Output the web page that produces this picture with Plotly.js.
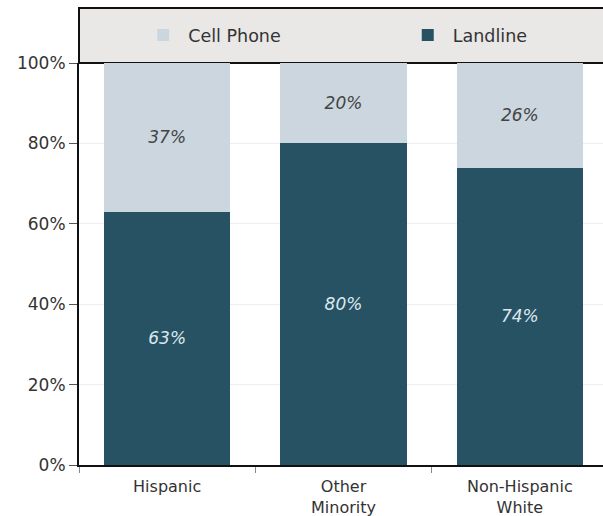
<!DOCTYPE html>
<html>
<head>
<meta charset="utf-8">
<script src="https://cdn.plot.ly/plotly-3.0.1.min.js"></script>
<style>
  html, body { margin: 0; padding: 0; overflow: hidden; background: #fff; }
  #chart { width: 608px; height: 516px; }
</style>
</head>
<body>
<div id="chart"></div>
<script>
// Share of each group's phone use, stacked to 100%
const categories = ['Hispanic', 'Other<br>Minority', 'Non-Hispanic<br>White'];
const landline = [63, 80, 74];
const cellPhone = [37, 20, 26];
const yTicks = [0, 20, 40, 60, 80, 100];

const landColor = '#275263';
const cellColor = '#cbd6df';
const fontFamily = '"DejaVu Sans", Verdana, sans-serif';

const pct = v => v + '%';

const traces = [
  {
    type: 'bar',
    name: 'Landline',
    legend: 'legend2',
    x: categories,
    y: landline,
    text: landline.map(pct),
    texttemplate: '%{text}',
    marker: { color: landColor, line: { width: 0 } },
    textposition: 'inside',
    insidetextanchor: 'middle',
    textfont: { family: fontFamily, size: 17, color: '#dce8ee', style: 'italic' },
    hoverinfo: 'skip'
  },
  {
    type: 'bar',
    name: 'Cell Phone',
    legend: 'legend',
    x: categories,
    y: cellPhone,
    text: cellPhone.map(pct),
    texttemplate: '%{text}',
    marker: { color: cellColor, line: { width: 0 } },
    textposition: 'inside',
    insidetextanchor: 'middle',
    textfont: { family: fontFamily, size: 17, color: '#444444', style: 'italic' },
    hoverinfo: 'skip'
  }
];

// legend band sits above the plot area, 55px tall
const bandTop = 1 + 55 / 402;
const legendMid = 1 + 28 / 402;
const legendStyle = {
  orientation: 'h',
  xanchor: 'left',
  y: legendMid, yanchor: 'middle',
  bgcolor: 'rgba(0,0,0,0)',
  itemwidth: 40,
  font: { family: fontFamily, size: 17.5, color: '#333333' }
};

const layout = {
  width: 608,
  height: 516,
  margin: { l: 79, r: 0, t: 63, b: 51 },
  paper_bgcolor: '#ffffff',
  plot_bgcolor: '#ffffff',
  barmode: 'stack',
  bargap: 0.284,
  font: { family: fontFamily, size: 17, color: '#333333' },
  xaxis: {
    type: 'category',
    range: [-0.5, 2.5],
    showline: true,
    linecolor: '#111111',
    linewidth: 2,
    ticks: 'outside',
    tickson: 'boundaries',
    ticklen: 6,
    tickcolor: '#888888',
    ticklabelstandoff: 6,
    tickfont: { family: fontFamily, size: 16, color: '#333333' },
    showgrid: false,
    zeroline: false
  },
  yaxis: {
    range: [0, 100],
    tickvals: yTicks,
    ticktext: yTicks.map(pct),
    showline: true,
    linecolor: '#111111',
    linewidth: 2,
    ticks: 'outside',
    ticklen: 8,
    tickcolor: '#555555',
    tickfont: { family: fontFamily, size: 17, color: '#333333' },
    showgrid: true,
    gridcolor: '#eeeeee',
    gridwidth: 1,
    zeroline: false
  },
  shapes: [
    {
      type: 'rect',
      xref: 'paper', yref: 'paper',
      x0: 0, x1: 1.01, y0: 1, y1: bandTop,
      fillcolor: '#e9e8e6',
      line: { color: '#111111', width: 2 },
      layer: 'below'
    }
  ],
  legend: Object.assign({}, legendStyle, { x: 0.112 }),
  legend2: Object.assign({}, legendStyle, { x: 0.612 }),
  showlegend: true
};

Plotly.newPlot('chart', traces, layout, { displayModeBar: false, staticPlot: true });
</script>
</body>
</html>
